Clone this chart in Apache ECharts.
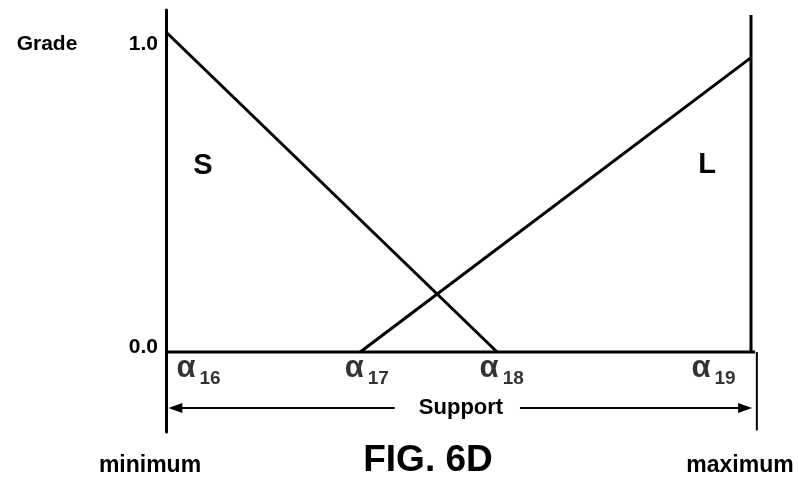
<!DOCTYPE html>
<html>
<head>
<meta charset="utf-8">
<script src="https://cdn.jsdelivr.net/npm/echarts@6/dist/echarts.min.js"></script>
<style>html,body{margin:0;padding:0;background:#fff}#c{width:798px;height:482px}</style>
</head>
<body>
<div id="c"></div>
<script>
// Support positions (0 = minimum, 100 = maximum) of alpha16..alpha19
const supportPoints = [0, 33.2, 56.6, 100];
const pointSubscripts = ['16', '17', '18', '19'];
// Membership functions (support, grade)
const sLine = [[0, 1.0], [56.6, 0.0]];
const lLine = [[33.2, 0.0], [100, 0.92]];
const gradeTicks = [0, 1];

const F = 'Liberation Sans, Arial, sans-serif';
const black = '#000';
const labelOffsets = [[11, 2], [-15, 2], [-17, 2], [-59, 2]];

const chart = echarts.init(document.getElementById('c'));
const plain = (data, extra) => Object.assign({
  type: 'line', data: data, symbol: 'none', showSymbol: false,
  lineStyle: { color: black, width: 3 }, silent: true
}, extra || {});

chart.setOption({
  animation: false,
  backgroundColor: '#fff',
  grid: { left: 166, right: 35.3, top: 10, bottom: 50 },
  xAxis: { type: 'value', min: 0, max: 102, show: false },
  yAxis: {
    type: 'value', min: -0.25, max: 1.06875,
    axisLine: { show: true, lineStyle: { color: black, width: 3 } },
    axisTick: { show: false },
    splitLine: { show: false },
    axisLabel: {
      customValues: gradeTicks,
      margin: 8,
      formatter: v => v === 1 ? '{t|' + v.toFixed(1) + '}' : '{b|' + v.toFixed(1) + '}',
      rich: {
        t: { fontFamily: F, fontWeight: 'bold', fontSize: 21, color: black, padding: [24, 0, 0, 0] },
        b: { fontFamily: F, fontWeight: 'bold', fontSize: 21, color: black, padding: [0, 0, 10, 0] }
      }
    }
  },
  graphic: [
    { type: 'text', x: 47, y: 44, style: { text: 'Grade', font: 'bold 21px ' + F, fill: black, align: 'center', verticalAlign: 'middle' } },
    { type: 'text', x: 203, y: 166, style: { text: 'S', font: 'bold 29px ' + F, fill: black, align: 'center', verticalAlign: 'middle' } },
    { type: 'text', x: 707, y: 165, style: { text: 'L', font: 'bold 29px ' + F, fill: black, align: 'center', verticalAlign: 'middle' } },
    { type: 'text', x: 461, y: 408, style: { text: 'Support', font: 'bold 22px ' + F, fill: black, align: 'center', verticalAlign: 'middle' } },
    { type: 'text', x: 150, y: 466, style: { text: 'minimum', font: 'bold 23px ' + F, fill: black, align: 'center', verticalAlign: 'middle' } },
    { type: 'text', x: 740, y: 466, style: { text: 'maximum', font: 'bold 23px ' + F, fill: black, align: 'center', verticalAlign: 'middle' } },
    { type: 'text', x: 428, y: 461, style: { text: 'FIG. 6D', font: 'bold 37px ' + F, fill: black, align: 'center', verticalAlign: 'middle' } }
  ],
  series: [
    plain([[0, 0], [100.7, 0]], {
      markLine: {
        silent: true, symbol: ['none', 'triangle'], symbolSize: [10, 14],
        label: { show: false },
        lineStyle: { color: black, width: 2, type: 'solid' },
        data: [
          [{ coord: [39.1, -0.175] }, { coord: [1.6, -0.175] }],
          [{ coord: [60.5, -0.175] }, { coord: [99.0, -0.175] }]
        ]
      }
    }),
    plain(sLine),
    plain(lLine),
    plain([[100, 0], [100, 1.053]]),
    plain([[101, 0], [101, -0.245]], { lineStyle: { color: black, width: 2 } }),
    {
      type: 'scatter', symbolSize: 1, itemStyle: { color: 'rgba(0,0,0,0)' }, silent: true,
      data: supportPoints.map((p, i) => ({
        value: [p, 0],
        label: {
          show: true, position: labelOffsets[i],
          formatter: '{a|α}{s|' + pointSubscripts[i] + '}',
          rich: {
            a: { fontFamily: F, fontWeight: 'bold', fontSize: 31, lineHeight: 30, color: black },
            s: { fontFamily: F, fontWeight: 'bold', fontSize: 19, lineHeight: 19, color: black, padding: [20, 0, 0, 4] }
          }
        }
      }))
    }
  ]
});
</script>
</body>
</html>
